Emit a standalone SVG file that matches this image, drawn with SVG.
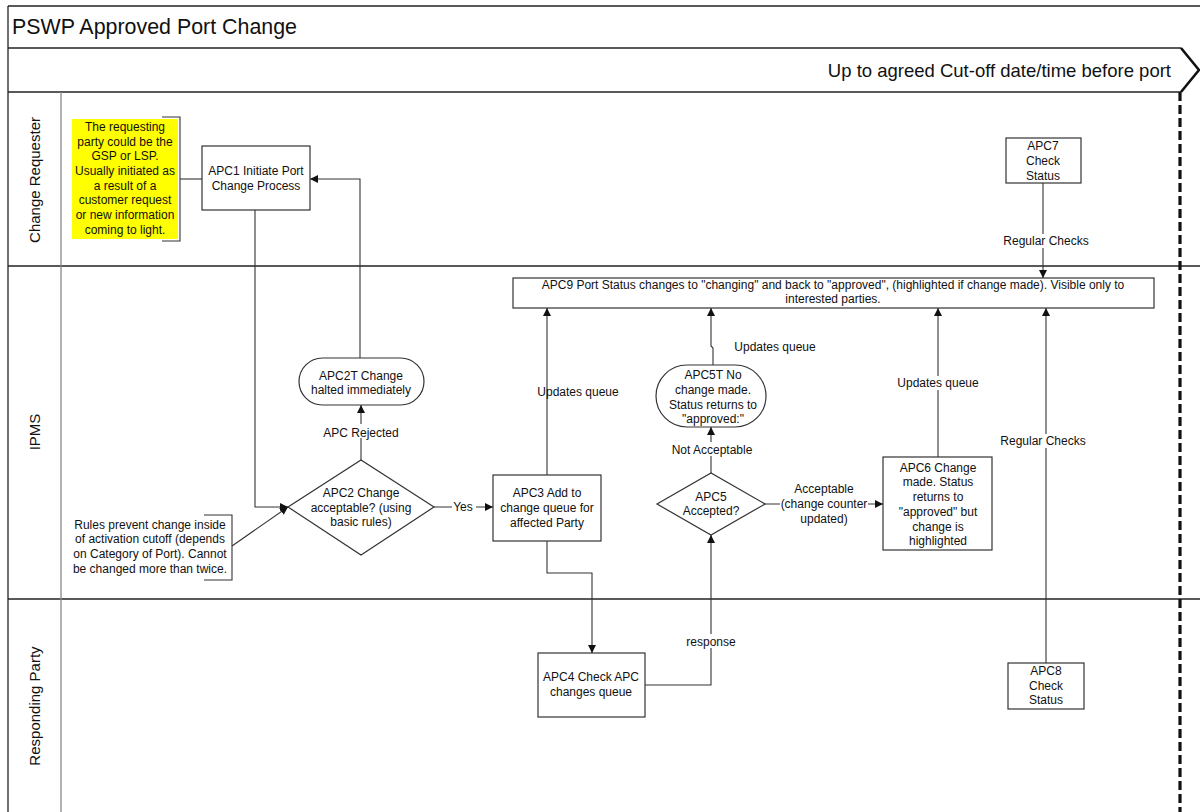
<svg xmlns="http://www.w3.org/2000/svg" width="1200" height="812" viewBox="0 0 1200 812">
  <style>
    text { font-family: "Liberation Sans", Arial, sans-serif; fill: #111; }
    .t { font-size: 12px; text-anchor: middle; }
    .box { fill: #fff; stroke: #333; stroke-width: 1.2; }
    .frame { fill: none; stroke: #222; stroke-width: 1.3; }
    .lane { font-size: 15px; text-anchor: middle; }
    .con { fill: none; stroke: #333; stroke-width: 1.1; }
    .lbl { font-size: 12px; text-anchor: middle; }
  </style>
  <defs>
    <marker id="arr" viewBox="0 0 10 10" refX="10" refY="5" markerWidth="8" markerHeight="8" orient="auto" markerUnits="userSpaceOnUse">
      <path d="M0,0 L10,5 L0,10 z" fill="#111"/>
    </marker>
  </defs>

  <rect width="1200" height="812" fill="#fff"/>

  <!-- pool frame -->
  <g id="frame">
    <line class="frame" x1="8" y1="6" x2="1200" y2="6"/>
    <line class="frame" x1="8" y1="6" x2="8" y2="812"/>
    <line class="frame" x1="8" y1="48" x2="1181" y2="48"/>
    <line class="frame" x1="8" y1="92" x2="1181" y2="92"/>
    <polyline points="1181,48 1199,70 1181,92" style="fill:none;stroke:#111;stroke-width:2.6"/>
    <line class="frame" x1="8" y1="266" x2="1200" y2="266"/>
    <line class="frame" x1="8" y1="599" x2="1200" y2="599"/>
    <line x1="61" y1="92" x2="61" y2="812" stroke="#888" stroke-width="1.3"/>
    <line x1="1180" y1="92" x2="1180" y2="812" stroke="#111" stroke-width="3.2" stroke-dasharray="9,4"/>
    <text x="12" y="34" font-size="21.4">PSWP Approved Port Change</text>
    <text x="1171" y="77" font-size="18.5" text-anchor="end">Up to agreed Cut-off date/time before port</text>
    <text class="lane" transform="translate(40,180) rotate(-90)">Change Requester</text>
    <text class="lane" transform="translate(40,432) rotate(-90)">IPMS</text>
    <text class="lane" transform="translate(40,706) rotate(-90)">Responding Party</text>
  </g>

  <!-- connectors -->
  <g id="connectors">
    <polyline class="con" points="255,210 255,507 288,507" marker-end="url(#arr)"/>
    <polyline class="con" points="232,546 288,507" marker-end="url(#arr)"/>
    <polyline class="con" points="180,179 202,179"/>
    <polyline class="con" points="361,460 361,405" marker-end="url(#arr)"/>
    <polyline class="con" points="360,358 360,179 310,179" marker-end="url(#arr)"/>
    <polyline class="con" points="434,507 493,507" marker-end="url(#arr)"/>
    <polyline class="con" points="547,475 547,308" marker-end="url(#arr)"/>
    <polyline class="con" points="547,541 547,573 592,573 592,653" marker-end="url(#arr)"/>
    <polyline class="con" points="645,685 711,685 711,535" marker-end="url(#arr)"/>
    <polyline class="con" points="711,473 711,427" marker-end="url(#arr)"/>
    <polyline class="con" points="713,365 713,348 711,346 711,308" marker-end="url(#arr)"/>
    <polyline class="con" points="765,504 883,504" marker-end="url(#arr)"/>
    <polyline class="con" points="938,457 938,308" marker-end="url(#arr)"/>
    <polyline class="con" points="1043,183 1043,278" marker-end="url(#arr)"/>
    <polyline class="con" points="1046,663 1046,308" marker-end="url(#arr)"/>

    <!-- connector labels -->
    <rect x="318" y="424" width="86" height="14" fill="#fff"/>
    <text class="lbl" x="361" y="437">APC Rejected</text>
    <rect x="452" y="500" width="24" height="14" fill="#fff"/>
    <text class="lbl" x="463" y="511">Yes</text>
    <text class="lbl" x="578" y="396">Updates queue</text>
    <rect x="682" y="634" width="58" height="14" fill="#fff"/>
    <text class="lbl" x="711" y="646">response</text>
    <rect x="668" y="442" width="88" height="14" fill="#fff"/>
    <text class="lbl" x="712" y="454">Not Acceptable</text>
    <text class="lbl" x="775" y="351">Updates queue</text>
    <rect x="780" y="484" width="88" height="40" fill="#fff"/>
    <text class="lbl" x="824" y="493">Acceptable</text>
    <text class="lbl" x="824" y="508">(change counter</text>
    <text class="lbl" x="824" y="523">updated)</text>
    <rect x="896" y="376" width="84" height="14" fill="#fff"/>
    <text class="lbl" x="938" y="387">Updates queue</text>
    <rect x="1002" y="234" width="86" height="14" fill="#fff"/>
    <text class="lbl" x="1046" y="245">Regular Checks</text>
    <rect x="1000" y="434" width="88" height="14" fill="#fff"/>
    <text class="lbl" x="1043" y="445">Regular Checks</text>
  </g>

  <!-- annotation: requesting party -->
  <g id="note-requester">
    <rect x="72" y="119" width="106" height="120" fill="#ffff00"/>
    <polyline points="162,117 180,117 180,241 162,241" fill="none" stroke="#333" stroke-width="1.1"/>
    <text class="t" x="125" y="131">The requesting</text>
    <text class="t" x="125" y="146">party could be the</text>
    <text class="t" x="125" y="160">GSP or LSP.</text>
    <text class="t" x="125" y="175">Usually initiated as</text>
    <text class="t" x="125" y="190">a result of a</text>
    <text class="t" x="125" y="204">customer request</text>
    <text class="t" x="125" y="219">or new information</text>
    <text class="t" x="125" y="234">coming to light.</text>
  </g>

  <!-- annotation: rules -->
  <g id="note-rules">
    <polyline points="204,515 232,515 232,580 204,580" fill="none" stroke="#333" stroke-width="1.1"/>
    <text class="t" x="150" y="529">Rules prevent change inside</text>
    <text class="t" x="150" y="543">of activation cutoff (depends</text>
    <text class="t" x="150" y="558">on Category of Port). Cannot</text>
    <text class="t" x="150" y="573">be changed more than twice.</text>
  </g>

  <g id="APC1">
    <rect class="box" x="202" y="146" width="108" height="64"/>
    <text class="t" x="256" y="175">APC1 Initiate Port</text>
    <text class="t" x="256" y="190">Change Process</text>
  </g>

  <g id="APC2T">
    <rect class="box" x="299" y="358" width="125" height="47" rx="23.5"/>
    <text class="t" x="361" y="380">APC2T Change</text>
    <text class="t" x="361" y="394">halted immediately</text>
  </g>

  <g id="APC2">
    <polygon class="box" points="288,507 361,460 434,507 361,555"/>
    <text class="t" x="361" y="497">APC2 Change</text>
    <text class="t" x="361" y="512">acceptable? (using</text>
    <text class="t" x="361" y="526">basic rules)</text>
  </g>

  <g id="APC3">
    <rect class="box" x="493" y="475" width="108" height="66"/>
    <text class="t" x="547" y="497">APC3 Add to</text>
    <text class="t" x="547" y="512">change queue for</text>
    <text class="t" x="547" y="527">affected Party</text>
  </g>

  <g id="APC4">
    <rect class="box" x="538" y="653" width="107" height="64"/>
    <text class="t" x="591" y="681">APC4 Check APC</text>
    <text class="t" x="591" y="696">changes queue</text>
  </g>

  <g id="APC5">
    <polygon class="box" points="657,504 711,473 765,504 711,535"/>
    <text class="t" x="711" y="501">APC5</text>
    <text class="t" x="711" y="515">Accepted?</text>
  </g>

  <g id="APC5T">
    <rect class="box" x="656" y="365" width="110" height="62" rx="31"/>
    <text class="t" x="713" y="379">APC5T No</text>
    <text class="t" x="713" y="394">change made.</text>
    <text class="t" x="713" y="409">Status returns to</text>
    <text class="t" x="713" y="423">"approved:"</text>
  </g>

  <g id="APC6">
    <rect class="box" x="883" y="457" width="109" height="93"/>
    <text class="t" x="938" y="472">APC6 Change</text>
    <text class="t" x="938" y="486">made. Status</text>
    <text class="t" x="938" y="501">returns to</text>
    <text class="t" x="938" y="516">"approved" but</text>
    <text class="t" x="938" y="531">change is</text>
    <text class="t" x="938" y="545">highlighted</text>
  </g>

  <g id="APC9">
    <rect class="box" x="513" y="278" width="641" height="30"/>
    <text class="t" x="833" y="289">APC9 Port Status changes to "changing" and back to "approved", (highlighted if change made). Visible only to</text>
    <text class="t" x="833" y="303">interested parties.</text>
  </g>

  <g id="APC7">
    <rect class="box" x="1006" y="138" width="75" height="45"/>
    <text class="t" x="1043" y="150">APC7</text>
    <text class="t" x="1043" y="165">Check</text>
    <text class="t" x="1043" y="180">Status</text>
  </g>

  <g id="APC8">
    <rect class="box" x="1008" y="663" width="76" height="46"/>
    <text class="t" x="1046" y="675">APC8</text>
    <text class="t" x="1046" y="690">Check</text>
    <text class="t" x="1046" y="704">Status</text>
  </g>
</svg>
